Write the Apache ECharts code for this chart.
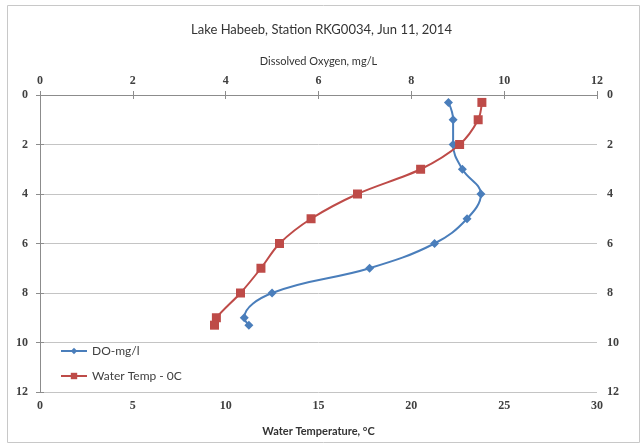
<!DOCTYPE html>
<html>
<head>
<meta charset="utf-8">
<script src="https://cdn.jsdelivr.net/npm/echarts@6/dist/echarts.min.js"></script>
<style>
  html, body { margin: 0; padding: 0; background: #fff; }
  #chart { width: 643px; height: 445px; }
</style>
</head>
<body>
<div id="chart"></div>
<script>
// Depth profile measurements (m)
const depths = [0.3, 1, 2, 3, 4, 5, 6, 7, 8, 9, 9.3];
// Dissolved oxygen, mg/L
const doValues = [8.8, 8.9, 8.9, 9.1, 9.5, 9.2, 8.5, 7.1, 5.0, 4.4, 4.5];
// Water temperature, °C
const tempValues = [23.8, 23.6, 22.6, 20.5, 17.1, 14.6, 12.9, 11.9, 10.8, 9.5, 9.4];

const titleText = 'Lake Habeeb, Station RKG0034, Jun 11, 2014';
const doAxisName = 'Dissolved Oxygen, mg/L';
const tempAxisName = 'Water Temperature, °C';
const doSeriesName = 'DO-mg/l';
const tempSeriesName = 'Water Temp - 0C';

const labelFont = { fontFamily: 'Liberation Serif', fontSize: 12, fontWeight: 'bold', color: '#404040' };
const axisLineStyle = { lineStyle: { color: '#8c8c8c', width: 1 } };

const chart = echarts.init(document.getElementById('chart'));
chart.setOption({
  animation: false,
  graphic: [{
    type: 'rect',
    shape: { x: 7.5, y: 5.5, width: 632, height: 437 },
    style: { fill: 'none', stroke: '#c8c8c8', lineWidth: 1 },
    silent: true
  }],
  title: {
    text: titleText,
    left: 'center',
    top: 18,
    textStyle: { fontFamily: 'Lato', fontSize: 13, fontWeight: 'normal', color: '#333' }
  },
  legend: {
    orient: 'vertical',
    left: 55,
    top: 340,
    itemWidth: 26,
    itemHeight: 8,
    itemGap: 13,
    textStyle: { fontFamily: 'Lato', fontSize: 12, color: '#404040' },
    data: [doSeriesName, tempSeriesName]
  },
  grid: { left: 40, right: 46, top: 95, bottom: 53 },
  xAxis: [{
    type: 'value',
    position: 'top',
    min: 0, max: 12, interval: 2,
    name: doAxisName,
    nameLocation: 'middle',
    nameGap: 28,
    nameTextStyle: { fontFamily: 'Lato', fontSize: 11, color: '#333' },
    axisLine: axisLineStyle,
    axisTick: { show: true, length: 4, inside: false, lineStyle: { color: '#8c8c8c' } },
    axisLabel: Object.assign({ margin: 8 }, labelFont),
    splitLine: { show: false }
  }, {
    type: 'value',
    position: 'bottom',
    min: 0, max: 30, interval: 5,
    name: tempAxisName,
    nameLocation: 'middle',
    nameGap: 34,
    nameTextStyle: { fontFamily: 'Lato', fontSize: 11, fontWeight: 'bold', color: '#333' },
    axisLine: axisLineStyle,
    axisTick: { show: true, length: 4, lineStyle: { color: '#8c8c8c' } },
    axisLabel: Object.assign({ margin: 8 }, labelFont),
    splitLine: { show: false }
  }],
  yAxis: [{
    type: 'value',
    position: 'left',
    inverse: true,
    min: 0, max: 12, interval: 2,
    axisLine: { show: true, lineStyle: { color: '#8c8c8c' } },
    axisTick: { show: true, length: 4, lineStyle: { color: '#8c8c8c' } },
    axisLabel: Object.assign({ margin: 12 }, labelFont),
    splitLine: { show: true, lineStyle: { color: '#c4c4c4', width: 1 } }
  }, {
    type: 'value',
    position: 'right',
    inverse: true,
    min: 0, max: 12, interval: 2,
    axisLine: { show: true, lineStyle: { color: '#8c8c8c' } },
    axisTick: { show: true, length: 4, lineStyle: { color: '#8c8c8c' } },
    axisLabel: Object.assign({ margin: 10 }, labelFont),
    splitLine: { show: false }
  }],
  series: [{
    name: doSeriesName,
    type: 'line',
    xAxisIndex: 0,
    yAxisIndex: 0,
    smooth: 0.4,
    symbol: 'diamond',
    symbolSize: 9,
    lineStyle: { color: '#4a7ebb', width: 2 },
    itemStyle: { color: '#4a7ebb' },
    data: depths.map((d, i) => [doValues[i], d])
  }, {
    name: tempSeriesName,
    type: 'line',
    xAxisIndex: 1,
    yAxisIndex: 0,
    smooth: 0.3,
    symbol: 'rect',
    symbolSize: 9,
    lineStyle: { color: '#be4b48', width: 2 },
    itemStyle: { color: '#be4b48' },
    data: depths.map((d, i) => [tempValues[i], d])
  }]
});
</script>
</body>
</html>
